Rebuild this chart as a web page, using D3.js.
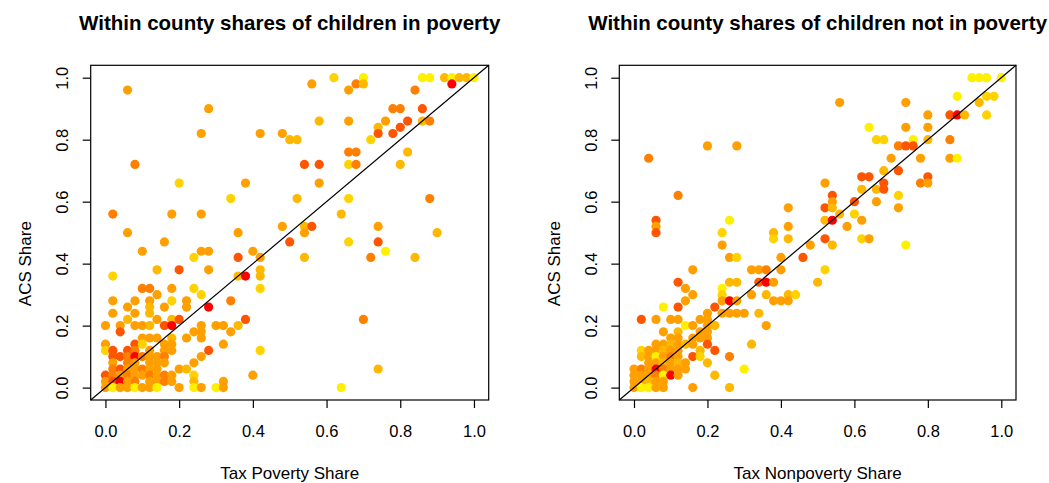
<!DOCTYPE html>
<html>
<head>
<meta charset="utf-8">
<script src="https://cdn.jsdelivr.net/npm/d3@7"></script>
<style>
  body { margin: 0; background: #fff; }
  svg { display: block; font-family: "Liberation Sans", Arial, sans-serif; }
</style>
</head>
<body>
<div id="chart"></div>
<script>
// tick values and labels
const tickValues = [0, 0.2, 0.4, 0.6, 0.8, 1.0];
const titles = ['Within county shares of children in poverty', 'Within county shares of children not in poverty'];
const xTitles = ['Tax Poverty Share', 'Tax Nonpoverty Share'];
const yTitle = 'ACS Share';

// heat palette, 0 = red ... 6 = yellow
const heatColors = ['#FF0000', '#FF5500', '#FF8000', '#FFA000', '#FFB800', '#FFD200', '#FFF000'];

// [tax share, acs share, colour level]
const povertyPoints = [
  [0.06,0.96,3],[0.28,0.90,3],[0.26,0.82,3],[0.42,0.82,3],[0.48,0.82,3],[0.08,0.72,2],
  [0.20,0.66,5],[0.38,0.66,3],[0.34,0.61,5],[0.02,0.56,2],[0.18,0.56,3],[0.26,0.56,3],
  [0.06,0.50,3],[0.36,0.50,3],[0.48,0.52,3],[0.56,0.98,3],[0.62,1.00,5],[0.70,1.00,6],
  [0.66,0.96,3],[0.68,0.98,2],[0.70,0.98,4],[0.86,1.00,6],[0.88,1.00,6],[0.92,1.00,4],
  [0.94,1.00,6],[0.96,1.00,4],[0.98,1.00,4],[1.00,1.00,6],[0.94,0.98,0],[0.84,0.96,2],
  [0.78,0.90,2],[0.80,0.90,2],[0.86,0.90,1],[0.58,0.86,4],[0.66,0.86,3],[0.76,0.86,3],
  [0.82,0.86,1],[0.86,0.86,4],[0.88,0.86,2],[0.74,0.84,4],[0.80,0.84,1],[0.74,0.82,1],
  [0.78,0.82,1],[0.50,0.80,4],[0.52,0.80,4],[0.72,0.80,5],[0.66,0.76,2],[0.68,0.76,2],
  [0.82,0.76,4],[0.54,0.72,1],[0.58,0.72,1],[0.66,0.72,5],[0.68,0.72,2],[0.80,0.72,4],
  [0.58,0.66,3],[0.52,0.61,4],[0.66,0.61,5],[0.88,0.61,2],[0.64,0.56,4],[0.54,0.52,4],
  [0.54,0.50,3],[0.56,0.52,1],[0.74,0.52,3],[0.90,0.50,4],[0.50,0.47,1],[0.54,0.42,4],
  [0.66,0.47,5],[0.74,0.47,1],[0.76,0.44,6],[0.72,0.42,2],[0.84,0.42,4],[0.70,0.22,2],
  [0.74,0.06,4],[0.64,0.00,6],
  [0.16,0.47,3],[0.10,0.44,3],[0.26,0.44,3],[0.28,0.44,3],[0.40,0.44,3],[0.24,0.42,5],
  [0.36,0.42,1],[0.42,0.42,3],[0.02,0.36,5],[0.14,0.38,4],[0.20,0.38,1],[0.28,0.38,3],
  [0.36,0.36,4],[0.38,0.36,0],[0.42,0.38,4],[0.42,0.36,4],[0.42,0.32,5],[0.10,0.32,2],
  [0.12,0.32,2],[0.14,0.30,3],[0.18,0.32,3],[0.24,0.32,5],[0.26,0.30,5],[0.02,0.28,3],
  [0.08,0.28,3],[0.12,0.28,3],[0.18,0.28,5],[0.22,0.28,3],[0.34,0.28,2],[0.06,0.26,3],
  [0.12,0.26,4],[0.16,0.26,3],[0.22,0.26,3],[0.28,0.26,0],[0.02,0.24,3],[0.08,0.24,3],
  [0.12,0.24,4],[0.06,0.22,4],[0.14,0.22,3],[0.18,0.22,4],[0.20,0.22,1],[0.38,0.22,1],
  [0.00,0.20,3],[0.04,0.20,3],[0.08,0.20,3],[0.10,0.20,3],[0.12,0.20,4],[0.16,0.20,1],
  [0.18,0.20,0],[0.24,0.18,3],[0.26,0.20,3],[0.26,0.18,3],[0.26,0.16,3],[0.30,0.20,3],
  [0.32,0.20,3],[0.34,0.18,3],[0.36,0.20,4],[0.04,0.18,1],[0.10,0.16,3],[0.12,0.16,3],
  [0.14,0.16,3],[0.18,0.16,4],[0.22,0.16,3],[0.00,0.14,3],[0.08,0.14,1],[0.10,0.14,5],
  [0.16,0.14,3],[0.18,0.14,3],[0.32,0.14,3],[0.00,0.12,5],[0.02,0.12,1],[0.06,0.12,1],
  [0.08,0.12,2],[0.12,0.12,3],[0.16,0.12,3],[0.18,0.12,3],[0.28,0.12,1],[0.42,0.12,5],
  [0.02,0.10,1],[0.04,0.10,1],[0.06,0.10,2],[0.08,0.10,0],[0.10,0.10,2],[0.12,0.10,3],
  [0.14,0.10,3],[0.16,0.10,2],[0.26,0.10,3],
  [0.02,0.08,3],[0.06,0.08,2],[0.08,0.08,3],[0.12,0.08,3],[0.14,0.08,3],[0.16,0.08,3],[0.24,0.08,3],
  [0.02,0.06,2],[0.04,0.06,1],[0.06,0.06,3],[0.08,0.06,3],[0.10,0.06,2],[0.12,0.06,3],
  [0.14,0.06,3],[0.20,0.06,3],[0.22,0.06,4],
  [0.00,0.04,1],[0.02,0.04,2],[0.04,0.04,3],[0.06,0.04,2],[0.08,0.04,3],[0.10,0.04,3],
  [0.12,0.04,2],[0.14,0.04,3],[0.16,0.04,2],[0.18,0.04,3],[0.24,0.04,5],[0.40,0.04,3],
  [0.00,0.02,3],[0.02,0.02,1],[0.04,0.02,0],[0.06,0.02,3],[0.08,0.02,2],[0.12,0.02,3],
  [0.14,0.02,3],[0.16,0.02,2],[0.18,0.02,3],[0.24,0.02,4],[0.32,0.02,3],
  [0.00,0.00,3],[0.02,0.00,6],[0.04,0.00,3],[0.06,0.00,3],[0.08,0.00,6],[0.10,0.00,3],
  [0.12,0.00,3],[0.14,0.00,6],[0.20,0.00,3],[0.24,0.00,6],[0.26,0.00,3],[0.30,0.00,6],[0.32,0.00,3]
];

const nonpovertyPoints = [
  [0.04,0.74,2],[0.20,0.78,3],[0.28,0.78,3],[0.12,0.62,2],[0.06,0.54,1],[0.06,0.52,3],
  [0.06,0.50,1],[0.26,0.54,6],[0.24,0.50,5],[0.38,0.50,4],[0.42,0.58,3],[0.42,0.52,3],
  [0.92,1.00,6],[0.94,1.00,6],[0.96,1.00,6],[1.00,1.00,6],[0.88,0.94,6],[0.96,0.94,5],
  [0.98,0.94,5],[0.94,0.92,4],[0.96,0.88,5],[0.56,0.92,3],[0.74,0.92,3],[0.80,0.88,3],
  [0.86,0.88,1],[0.88,0.88,0],[0.90,0.88,4],[0.64,0.84,6],[0.74,0.84,3],[0.80,0.84,3],
  [0.66,0.80,5],[0.68,0.80,5],[0.76,0.80,6],[0.80,0.80,4],[0.86,0.80,2],[0.72,0.78,2],
  [0.74,0.78,1],[0.76,0.78,1],[0.70,0.74,3],[0.78,0.74,3],[0.86,0.74,3],[0.88,0.74,6],
  [0.68,0.70,4],[0.72,0.70,1],[0.62,0.68,1],[0.64,0.68,1],[0.80,0.68,1],[0.52,0.66,3],
  [0.68,0.66,1],[0.78,0.66,2],[0.80,0.66,3],[0.62,0.64,4],[0.66,0.64,4],[0.68,0.64,1],
  [0.54,0.62,1],[0.54,0.60,3],[0.60,0.60,1],[0.66,0.60,3],[0.72,0.62,5],[0.72,0.58,3],
  [0.52,0.58,1],[0.54,0.58,4],[0.56,0.56,4],[0.60,0.56,5],[0.52,0.54,4],[0.54,0.54,0],
  [0.62,0.54,3],[0.58,0.52,3],[0.52,0.48,1],[0.54,0.46,4],[0.62,0.48,5],[0.64,0.48,3],
  [0.74,0.46,6],[0.52,0.38,5],[0.50,0.34,4],
  [0.38,0.48,5],[0.42,0.48,4],[0.24,0.46,3],[0.48,0.46,3],[0.26,0.42,3],[0.28,0.42,5],
  [0.40,0.42,3],[0.46,0.42,1],[0.16,0.38,3],[0.32,0.38,3],[0.34,0.38,3],[0.36,0.38,2],
  [0.40,0.38,3],[0.12,0.34,1],[0.26,0.34,4],[0.28,0.34,4],[0.34,0.34,1],[0.36,0.34,0],
  [0.38,0.34,3],[0.14,0.32,3],[0.24,0.32,6],[0.16,0.30,3],[0.24,0.30,5],[0.32,0.30,3],
  [0.36,0.30,4],[0.42,0.30,4],[0.44,0.30,5],[0.14,0.28,3],[0.24,0.28,3],[0.26,0.28,0],
  [0.28,0.28,3],[0.38,0.28,3],[0.40,0.28,3],[0.42,0.28,3],[0.08,0.26,6],[0.12,0.26,1],
  [0.22,0.26,1],[0.20,0.24,3],[0.24,0.24,3],[0.26,0.24,3],[0.28,0.24,3],[0.30,0.24,3],
  [0.34,0.24,4],[0.02,0.22,1],[0.06,0.22,3],[0.10,0.22,3],[0.12,0.22,3],[0.18,0.22,3],
  [0.20,0.22,3],[0.14,0.20,6],[0.16,0.20,3],[0.20,0.20,3],[0.22,0.20,4],[0.36,0.20,3],
  [0.08,0.18,3],[0.12,0.18,4],[0.18,0.18,3],[0.20,0.18,3],[0.10,0.16,3],[0.12,0.16,3],
  [0.16,0.16,3],[0.18,0.16,3],[0.20,0.16,3],[0.06,0.14,3],[0.08,0.14,3],[0.10,0.14,4],
  [0.12,0.14,3],[0.14,0.14,4],[0.16,0.14,3],[0.20,0.14,1],[0.32,0.14,4],
  [0.02,0.12,5],[0.04,0.12,3],[0.06,0.12,3],[0.08,0.12,4],[0.10,0.12,3],[0.12,0.12,3],
  [0.18,0.12,4],[0.22,0.12,1],
  [0.02,0.10,4],[0.04,0.10,3],[0.06,0.10,6],[0.08,0.10,3],[0.10,0.10,2],[0.12,0.10,3],
  [0.16,0.10,1],[0.18,0.10,5],[0.26,0.10,2],
  [0.04,0.08,3],[0.06,0.08,3],[0.08,0.08,4],[0.10,0.08,3],[0.12,0.08,4],[0.14,0.08,3],[0.20,0.08,4],
  [0.00,0.06,3],[0.02,0.06,2],[0.04,0.06,3],[0.06,0.06,0],[0.08,0.06,2],[0.10,0.06,3],
  [0.12,0.06,3],[0.14,0.06,3],[0.30,0.06,6],
  [0.00,0.04,3],[0.02,0.04,3],[0.04,0.04,3],[0.06,0.04,2],[0.08,0.04,6],[0.10,0.04,0],
  [0.12,0.04,3],[0.22,0.04,4],
  [0.00,0.02,3],[0.02,0.02,3],[0.04,0.02,4],[0.06,0.02,3],[0.08,0.02,3],
  [0.00,0.00,3],[0.02,0.00,6],[0.04,0.00,6],[0.06,0.00,3],[0.08,0.00,3],[0.16,0.00,3],[0.26,0.00,4]
];

const width = 1049, height = 483;
const fontSize = 16.5;

const svg = d3.select('#chart').append('svg')
  .attr('width', width)
  .attr('height', height);

// R style: data range 0..1 padded by 4%
const domain = [-0.04, 1.04];
const panels = [
  { left: 90.7, right: 488.7, data: povertyPoints },
  { left: 619.3, right: 1016, data: nonpovertyPoints }
];
const plotTop = 65.3, plotBottom = 400;

panels.forEach((p, i) => {
  const x = d3.scaleLinear().domain(domain).range([p.left, p.right]);
  const y = d3.scaleLinear().domain(domain).range([plotBottom, plotTop]);
  const g = svg.append('g');
  const cx = (p.left + p.right) / 2;

  // title
  g.append('text')
    .attr('x', cx)
    .attr('y', 30)
    .attr('text-anchor', 'middle')
    .style('font-size', '20.5px')
    .style('font-weight', 'bold')
    .text(titles[i]);

  // points
  g.append('g')
    .selectAll('circle')
    .data(p.data)
    .join('circle')
    .attr('cx', d => x(d[0]))
    .attr('cy', d => y(d[1]))
    .attr('r', 4.6)
    .attr('fill', d => heatColors[d[2]]);

  // 45 degree line
  g.append('path')
    .attr('fill', 'none')
    .attr('stroke', '#000')
    .attr('stroke-width', 1.2)
    .attr('d', d3.line().x(d => x(d)).y(d => y(d))(domain));

  // box
  g.append('rect')
    .attr('x', p.left)
    .attr('y', plotTop)
    .attr('width', p.right - p.left)
    .attr('height', plotBottom - plotTop)
    .attr('fill', 'none')
    .attr('stroke', '#000')
    .attr('stroke-width', 1.2);

  // x axis
  const xAxis = g.append('g')
    .attr('transform', `translate(0,${plotBottom})`)
    .call(d3.axisBottom(x).tickValues(tickValues).tickFormat(d3.format('.1f')).tickSize(8).tickSizeOuter(0));
  xAxis.select('.domain').remove();
  xAxis.selectAll('line').attr('stroke', '#000').attr('stroke-width', 1.2);
  xAxis.selectAll('text')
    .attr('y', 37)
    .attr('dy', 0)
    .attr('fill', '#000')
    .style('font-size', fontSize + 'px')
    .style('font-family', '"Liberation Sans", Arial, sans-serif');

  // y axis
  const yAxis = g.append('g')
    .attr('transform', `translate(${p.left},0)`)
    .call(d3.axisLeft(y).tickValues(tickValues).tickFormat(d3.format('.1f')).tickSize(8).tickSizeOuter(0));
  yAxis.select('.domain').remove();
  yAxis.selectAll('line').attr('stroke', '#000').attr('stroke-width', 1.2);
  yAxis.selectAll('text')
    .attr('x', 0)
    .attr('y', -22.7)
    .attr('dy', 0)
    .attr('text-anchor', 'middle')
    .attr('transform', 'rotate(-90)')
    .attr('fill', '#000')
    .style('font-size', fontSize + 'px')
    .style('font-family', '"Liberation Sans", Arial, sans-serif');

  // x title
  g.append('text')
    .attr('x', cx)
    .attr('y', 479)
    .attr('text-anchor', 'middle')
    .style('font-size', '17px')
    .text(xTitles[i]);

  // y title
  g.append('text')
    .attr('transform', `translate(${p.left - 59.7},${y(0.4)}) rotate(-90)`)
    .attr('text-anchor', 'middle')
    .style('font-size', '17px')
    .text(yTitle);
});
</script>
</body>
</html>
